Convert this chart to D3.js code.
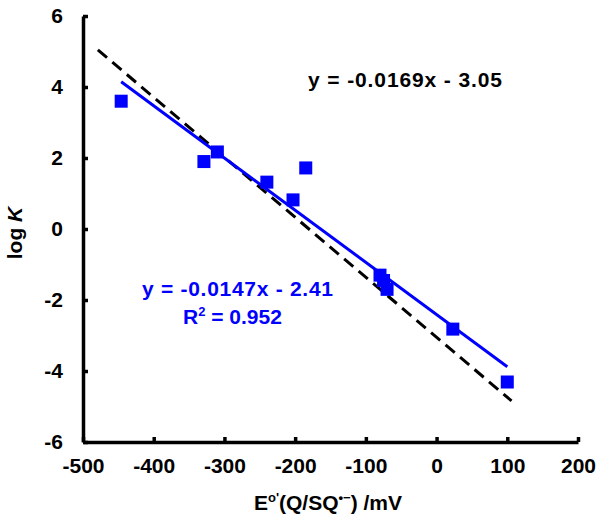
<!DOCTYPE html>
<html>
<head>
<meta charset="utf-8">
<script src="https://cdn.jsdelivr.net/npm/d3@7/dist/d3.min.js"></script>
<style>
  body{ margin:0; background:#fff }
  text{ font-family:"Liberation Sans", Arial, sans-serif; font-weight:bold }
</style>
</head>
<body>
<svg id="chart" width="600" height="520"></svg>
<script>
// measured points (E°' in mV, log K)
const potentials = [-446, -329, -310, -240, -203, -185, -80, -75, -70, 23, 100]
const logK       = [3.6, 1.9, 2.17, 1.32, 0.82, 1.72, -1.3, -1.45, -1.7, -2.82, -4.31]

// fits
const fitBlue  = { slope:-0.0147, icpt:-2.41, from:-446, to:100 }
const fitDash  = { slope:-0.0169, icpt:-3.05, from:-479, to:106 }

const xTicks = [-500, -400, -300, -200, -100, 0, 100, 200]
const yTicks = [-6, -4, -2, 0, 2, 4, 6]

const svg = d3.select('#chart')
const x = d3.scaleLinear().domain([-500, 200]).range([83, 578])
const y = d3.scaleLinear().domain([-6, 6]).range([442, 16])

const line = d3.line().x(d => x(d[0])).y(d => y(d[1]))
const ends = f => [[f.from, f.slope*f.from + f.icpt], [f.to, f.slope*f.to + f.icpt]]
const fmt = d => String(d)  // plain hyphen minus like the original

// axes, ticks pointing inward
const gx = svg.append('g').attr('transform', `translate(0,${y(-6)})`)
  .call(d3.axisBottom(x).tickValues(xTicks).tickFormat(fmt).tickSizeInner(-5).tickSizeOuter(0).tickPadding(25))
const gy = svg.append('g').attr('transform', `translate(${x(-500)},0)`)
  .call(d3.axisLeft(y).tickValues(yTicks).tickFormat(fmt).tickSizeInner(-5).tickSizeOuter(0).tickPadding(20))
for(const g of [gx, gy]){
  g.select('.domain').attr('stroke', '#000').attr('stroke-width', 3.5)
  g.selectAll('.tick line').attr('stroke', '#000').attr('stroke-width', 3.5)
  g.selectAll('.tick text').attr('fill', '#000').style('font-size', '21px')
    .style('font-family', '"Liberation Sans", Arial, sans-serif').style('font-weight', 'bold')
}
gx.selectAll('.tick text').attr('dy', '0.3em')

// dashed fit
svg.append('path').attr('d', line(ends(fitDash)))
  .attr('fill', 'none').attr('stroke', '#000').attr('stroke-width', 3).attr('stroke-dasharray', '12,7')

// blue fit
svg.append('path').attr('d', line(ends(fitBlue)))
  .attr('fill', 'none').attr('stroke', '#0000ff').attr('stroke-width', 3)

// points
const S = 13
svg.append('g').selectAll('rect').data(potentials.map((p, i) => [p, logK[i]]))
  .join('rect')
  .attr('x', d => x(d[0]) - S/2).attr('y', d => y(d[1]) - S/2)
  .attr('width', S).attr('height', S).attr('fill', '#0000ff')

// equations
svg.append('text').attr('x', 308).attr('y', 87).style('font-size', '21px').attr('fill', '#000')
  .attr('textLength', 194).attr('lengthAdjust', 'spacing')
  .text('y = -0.0169x  - 3.05')
svg.append('text').attr('fill', '#0000ff').style('font-size', '21px')
  .attr('x', 142).attr('y', 296).attr('textLength', 191).attr('lengthAdjust', 'spacing')
  .text('y = -0.0147x - 2.41')
const r2 = svg.append('text').attr('fill', '#0000ff').style('font-size', '21px')
  .attr('x', 183).attr('y', 324)
r2.append('tspan').text('R')
r2.append('tspan').attr('dy', -8).style('font-size', '13px').text('2')
r2.append('tspan').attr('dy', 8).text(' = 0.952')

// axis titles
const xt = svg.append('text').attr('x', 328).attr('y', 510).attr('text-anchor', 'middle')
  .style('font-size', '21px').attr('fill', '#000')
xt.append('tspan').text('E')
xt.append('tspan').attr('dy', -8).style('font-size', '13px').text("o'")
xt.append('tspan').attr('dy', 8).text('(Q/SQ')
xt.append('tspan').attr('dy', -8).style('font-size', '13px').text('•−')
xt.append('tspan').attr('dy', 8).text(') /mV')

const yt = svg.append('text').attr('transform', 'translate(22,233) rotate(-90)')
  .attr('text-anchor', 'middle').style('font-size', '21px').attr('fill', '#000')
yt.append('tspan').text('log ')
yt.append('tspan').style('font-style', 'italic').text('K')
</script>
</body>
</html>
